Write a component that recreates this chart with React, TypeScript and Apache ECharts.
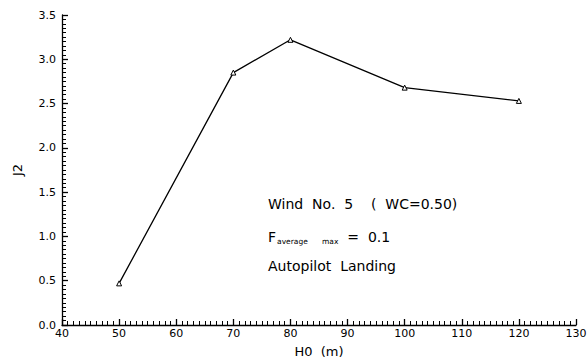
import React, { useEffect, useRef } from "react";
import * as echarts from "echarts";

const h0Values = [50, 70, 80, 100, 120];
const j2Values = [0.47, 2.85, 3.22, 2.68, 2.53];
const annotationLines = ["Wind  No.  5    (  WC=0.50)", "=  0.1", "Autopilot  Landing"];

export default function App() {
  const ref = useRef<HTMLDivElement>(null);
  useEffect(() => {
    if (!ref.current) return;
    const chart = echarts.init(ref.current, null, { renderer: "svg" });
    const font = "DejaVu Sans";
    const data = h0Values.map((x, i) => [x, j2Values[i]]);
    const tickCommon = {
      axisTick: { show: true, inside: true, length: 6, lineStyle: { color: "#000", width: 1.3, opacity: 1 } },
      minorTick: { show: true, splitNumber: 10, length: 4, lineStyle: { color: "#000", width: 1, opacity: 1 } },
      axisLine: { show: true, onZero: false, lineStyle: { color: "#000", width: 1.3 } },
      splitLine: { show: false },
      minorSplitLine: { show: false },
    };
    chart.setOption({
      animation: false,
      backgroundColor: "#fff",
      grid: { left: 62, right: 12, top: 15, bottom: 36, outerBoundsMode: "none" },
      xAxis: {
        type: "value",
        min: 40,
        max: 130,
        interval: 10,
        name: "H0  (m)",
        nameLocation: "middle",
        nameGap: 20,
        nameTextStyle: { color: "#000", fontFamily: font, fontSize: 13 },
        ...tickCommon,
        axisLabel: { color: "#000", fontFamily: font, fontSize: 11, margin: 3 },
      },
      yAxis: {
        type: "value",
        min: 0,
        max: 3.5,
        interval: 0.5,
        name: "J2",
        nameLocation: "middle",
        nameGap: 38,
        nameRotate: 90,
        nameTextStyle: { color: "#000", fontFamily: font, fontSize: 13 },
        ...tickCommon,
        axisLabel: {
          color: "#000",
          fontFamily: font,
          fontSize: 11,
          margin: 6,
          formatter: (v: number) => v.toFixed(1),
        },
      },
      series: [
        {
          type: "line",
          data,
          symbol: "triangle",
          symbolSize: 5,
          itemStyle: { color: "#fff", borderColor: "#000", borderWidth: 1 },
          lineStyle: { color: "#000", width: 1.3 },
        },
      ],
      graphic: [
        {
          type: "text",
          left: 268,
          top: 197,
          style: { text: annotationLines[0], fill: "#000", font: `14px ${font}` },
        },
        {
          type: "text",
          left: 268,
          top: 230,
          style: {
            text: "{f|F}{s|average      max}{e|  " + annotationLines[1] + "}",
            rich: {
              f: { fill: "#000", fontSize: 14, fontFamily: font },
              s: { fill: "#000", fontSize: 7.5, fontFamily: font, padding: [9, 0, 0, 1] },
              e: { fill: "#000", fontSize: 14, fontFamily: font },
            },
          },
        },
        {
          type: "text",
          left: 268,
          top: 259,
          style: { text: annotationLines[2], fill: "#000", font: `14px ${font}` },
        },
      ],
    });
    return () => chart.dispose();
  }, []);
  return <div ref={ref} style={{ width: 588, height: 361, position: "absolute", left: 0, top: 0 }} />;
}
